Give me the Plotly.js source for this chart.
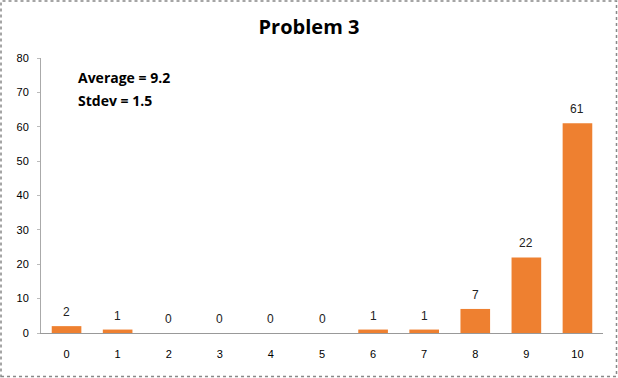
<!DOCTYPE html>
<html><head><meta charset="utf-8">
<script src="https://cdn.plot.ly/plotly-3.0.1.min.js"></script>
<style>html,body{margin:0;padding:0;background:#fff}#c{width:618px;height:378px}</style>
</head><body><div id="c"></div>
<script>
const categories = ['0','1','2','3','4','5','6','7','8','9','10'];
const counts = [2,1,0,0,0,0,1,1,7,22,61];
const yTicks = [0,10,20,30,40,50,60,70,80];
const titleText = 'Problem 3';
const statsLines = ['Average = 9.2','Stdev = 1.5'];

const L=41,R=15,T=58,B=45,W=618,H=378;
const pw=W-L-R, ph=H-T-B;
const trace = {
  type:'bar', x:categories, y:counts,
  marker:{color:'#EE8030', line:{width:0}},
  width:0.58, hoverinfo:'skip'
};
const labelAnns = categories.map((c,i)=>({x:c, y:counts[i], xref:'x', yref:'y',
  text:String(counts[i]), showarrow:false, yanchor:'bottom', yshift:5,
  font:{family:'Liberation Sans, Arial, sans-serif', size:12, color:'#222'}}));
const statAnns = statsLines.map((s,i)=>({text:'<b>'+s+'</b>', xref:'paper', yref:'paper',
    x:(76-L)/pw, y:(H-B-(77+i*23))/ph, xanchor:'left', yanchor:'middle', showarrow:false,
    font:{family:'Open Sans, Liberation Sans, sans-serif', size:14, color:'#000'}}));
const layout = {
  width:W, height:H, margin:{l:L,r:R,t:T,b:B},
  paper_bgcolor:'#fff', plot_bgcolor:'#fff', showlegend:false,
  title:{text:'<b>'+titleText+'</b>', x:0.5, xref:'container', y:1-27/H, yanchor:'middle',
    font:{family:'Open Sans, Liberation Sans, sans-serif', size:20, color:'#000'}},
  xaxis:{type:'category', showgrid:false, zeroline:false, showline:true, linecolor:'#999', linewidth:1,
    ticks:'', tickfont:{family:'Liberation Sans, Arial, sans-serif', size:11, color:'#000'}, ticklabelstandoff:11},
  yaxis:{range:[0,80], tickvals:yTicks, showgrid:false, zeroline:false, showline:true, linecolor:'#aaa', linewidth:1,
    ticks:'outside', ticklen:3, tickcolor:'#bbb',
    tickfont:{family:'Liberation Sans, Arial, sans-serif', size:11, color:'#000'}, ticklabelstandoff:6},
  annotations: labelAnns.concat(statAnns),
  shapes:[{type:'rect', xref:'paper', yref:'paper',
    x0:-(L-1)/pw, x1:1+(R-1.5)/pw, y0:-(B-1.5)/ph, y1:1+(T-1)/ph,
    line:{color:'#888', width:1.5, dash:'dot'}, fillcolor:'rgba(0,0,0,0)'}]
};
Plotly.newPlot('c',[trace],layout,{staticPlot:true});
</script></body></html>
